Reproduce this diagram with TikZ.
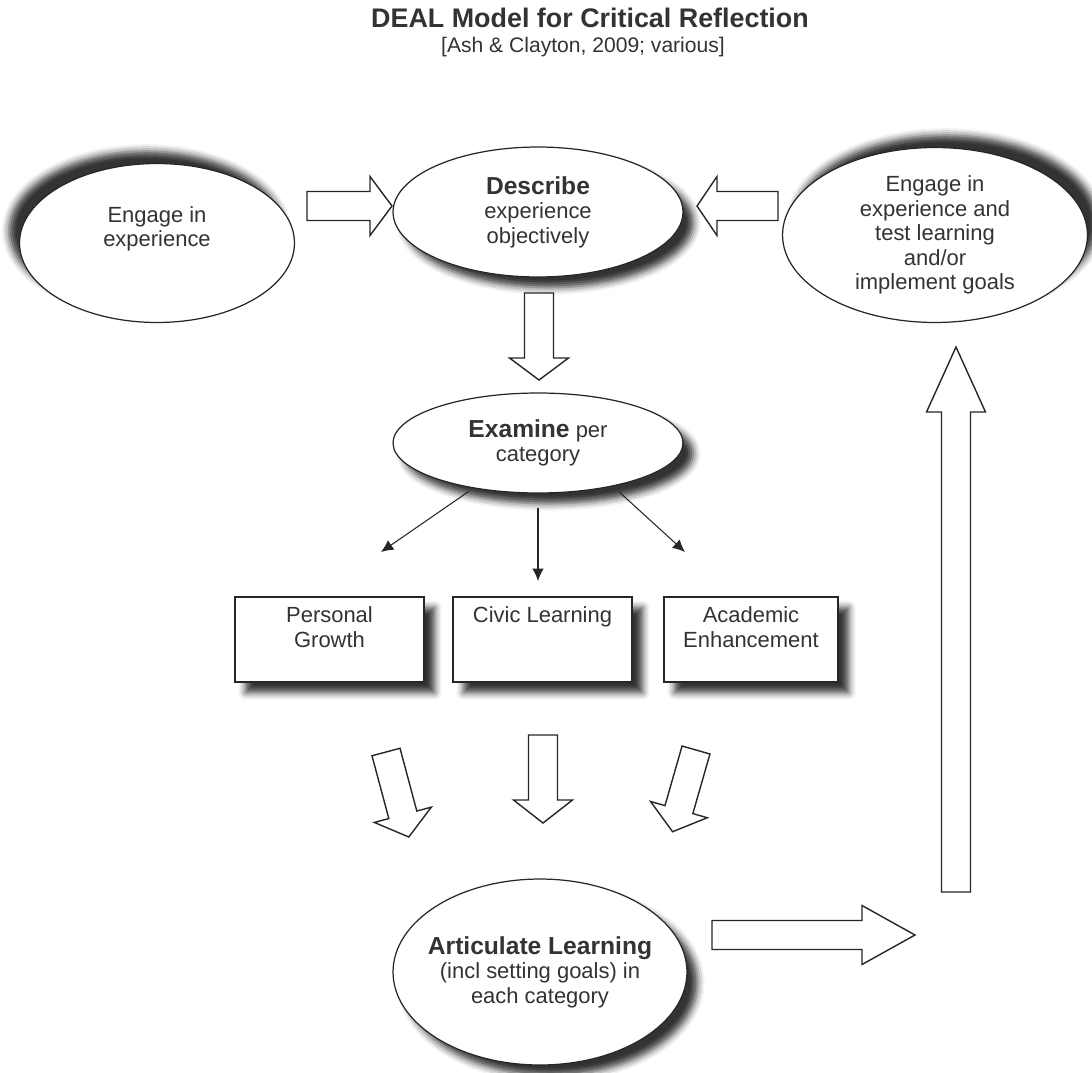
\documentclass[tikz,border=0pt]{standalone}
\usepackage{fontspec}
\setmainfont{Liberation Sans}
\usetikzlibrary{shapes.geometric, arrows.meta, positioning, calc, shadows.blur}

\begin{document}
\begin{tikzpicture}[
  x=0.02cm, y=-0.02cm,
  every node/.style={text=black!80, font=\fontsize{12.5}{14}\selectfont},
  oval/.style={draw=black!85, line width=0.7pt, ellipse, fill=white, align=center, inner xsep=-10pt, inner ysep=-2pt},
  box/.style={draw=black!85, line width=0.7pt, rectangle, fill=white, minimum height=1.7cm},
  boxtext/.style={align=center, anchor=north, yshift=-2.5pt},
  shadowdr/.style={blur shadow={shadow xshift=6pt, shadow yshift=-6pt, shadow blur radius=4pt, shadow opacity=80}},
  shadowul/.style={blur shadow={shadow xshift=-6pt, shadow yshift=7pt, shadow blur radius=4pt, shadow opacity=80}},
  shadowur/.style={blur shadow={shadow xshift=6pt, shadow yshift=7pt, shadow blur radius=4pt, shadow opacity=80}},
  thinarrow/.style={-{Latex[length=7pt,width=6.5pt]}, line width=0.6pt, draw=black!85},
  fatline/.style={draw=black!85, line width=0.8pt, fill=white, line join=miter},
  pics/fatarrow/.style args={#1/#2}{code={
    \draw[fatline] (0,-14.5) -- ({#1-#2},-14.5) -- ({#1-#2},-29.5) -- (#1,0)
      -- ({#1-#2},29.5) -- ({#1-#2},14.5) -- (0,14.5) -- cycle;
  }}
]
  \useasboundingbox (0,0) rectangle (1092,1072);

  % title
  \node[font=\fontsize{15.3}{18}\selectfont\bfseries] (title) at (590,18) {DEAL Model for Critical Reflection};
  \node[font=\fontsize{12}{14}\selectfont] (source) at (583,47) {[Ash \& Clayton, 2009; various]};

  % top row
  \node[oval, shadowul, minimum width=5.5cm, minimum height=3.18cm] (engage) at (157,243) {};
  \node[align=center] (engagetxt) at ([yshift=8pt]engage.center) {Engage in\\experience};
  \node[oval, shadowdr, minimum width=5.8cm, minimum height=2.6cm] (describe) at (538,212)
    {{\fontsize{14}{16}\selectfont\bfseries Describe}\\experience\\objectively};
  \node[oval, shadowur, minimum width=6.1cm, minimum height=3.5cm] (test) at (935,235)
    {Engage in\\experience and\\test learning\\and/or\\implement goals};

  \pic[rotate=0] at (307,206) {fatarrow=85/22};
  \pic[rotate=180] at (778,206) {fatarrow=81/20};
  \pic[rotate=-90] at (539,293) {fatarrow=87/22};

  % examine and categories
  \node[oval, shadowdr, minimum width=5.8cm, minimum height=2.0cm] (exam) at (538,443)
    {{\fontsize{14}{16}\selectfont\bfseries Examine} per\\category};

  \node[box, shadowdr, minimum width=3.78cm, label={[boxtext]north:{Personal\\Growth}}] (pers) at (329.5,639.5) {};
  \node[box, shadowdr, minimum width=3.58cm, label={[boxtext]north:{Civic Learning}}] (civic) at (542.5,639.5) {};
  \node[box, shadowdr, minimum width=3.48cm, label={[boxtext]north:{Academic\\Enhancement}}] (acad) at (751,639.5) {};

  \coordinate (endP) at (381,552);
  \coordinate (endC) at (538,581);
  \coordinate (endA) at (685,552);
  \draw[thinarrow, shorten <=3pt] (exam.-145) -- (endP);
  \draw[thinarrow, shorten <=8pt] (exam.south) -- (endC);
  \draw[thinarrow, shorten <=5pt] (exam.-30) -- (endA);

  \pic[rotate=-75] at (386,752) {fatarrow=88/23};
  \pic[rotate=-90] at (543,735) {fatarrow=88/23};
  \pic[rotate=-106] at (696,750) {fatarrow=85/23};

  % articulate and back to experience
  \node[oval, shadowdr, minimum width=5.88cm, minimum height=3.72cm] (artic) at (540,972)
    {{\fontsize{14}{16}\selectfont\bfseries Articulate Learning}\\(incl setting goals) in\\each category};

  \pic[rotate=0] at (712,935) {fatarrow=203/53};
  \pic[rotate=90] at (956,892) {fatarrow=545/65};
\end{tikzpicture}
\end{document}
